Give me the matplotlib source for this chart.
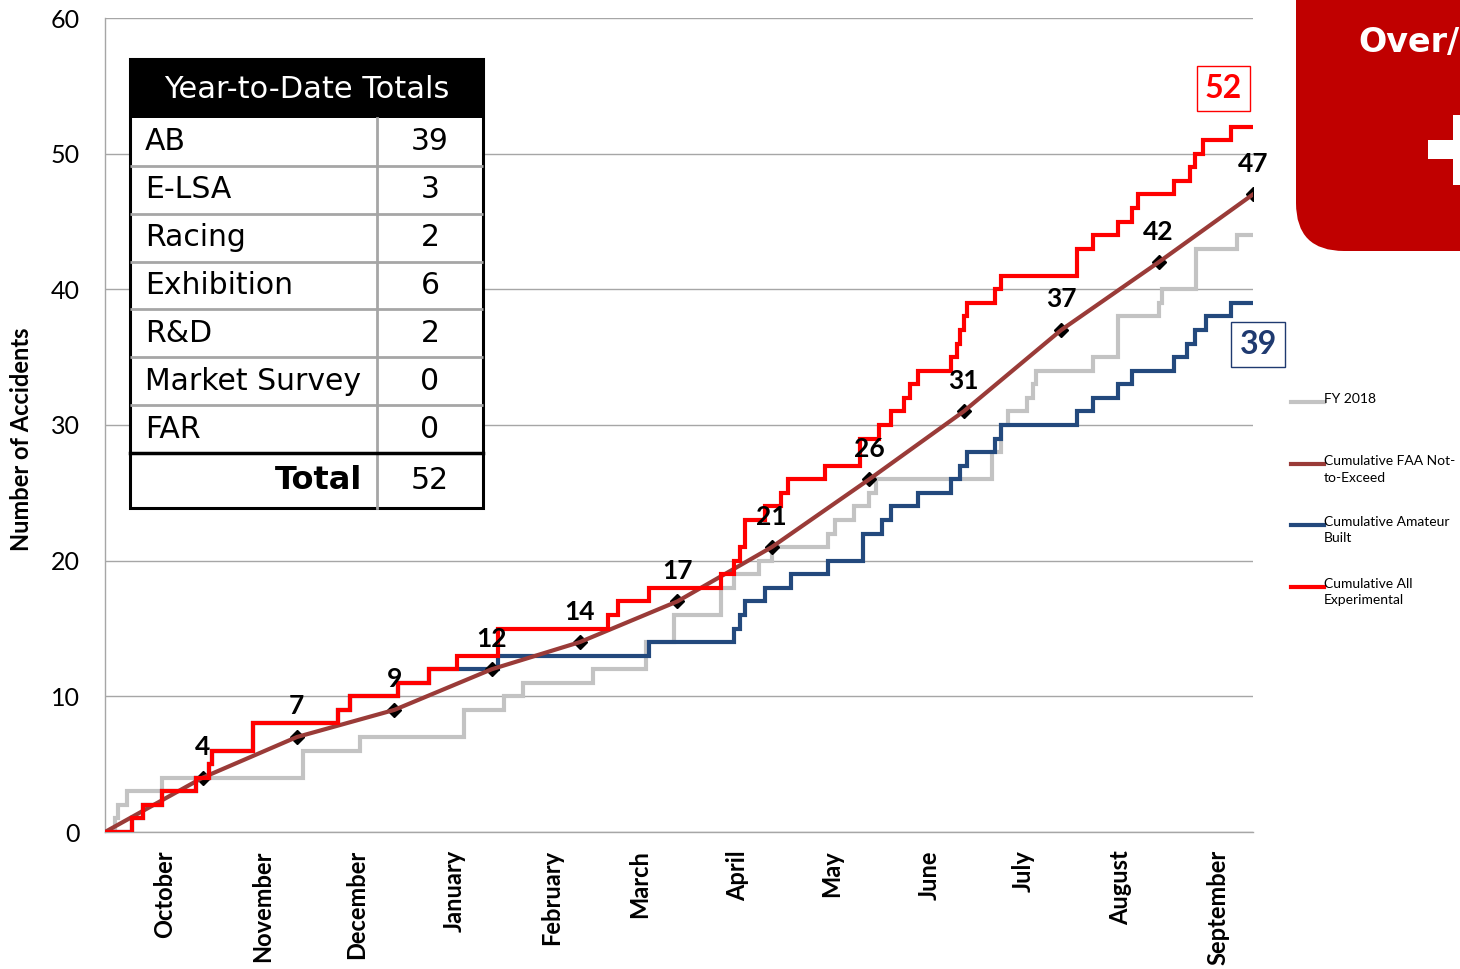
import matplotlib
matplotlib.use("Agg")
import matplotlib.pyplot as plt
from matplotlib.patches import FancyBboxPatch, Rectangle
from matplotlib.lines import Line2D

# ---------------- data ----------------
months = ["October", "November", "December", "January", "February", "March",
          "April", "May", "June", "July", "August", "September"]
month_start_days = [0, 31, 61, 92, 123, 151, 182, 212, 243, 273, 304, 335]

# Cumulative All Experimental (day of FY, cumulative count)
all_exp_days = [0, 8.5, 12, 18, 29, 33, 34, 47, 74, 78, 93, 103, 112, 125, 160, 163, 173,
                196, 200, 202, 203.5, 210, 215, 217, 229, 240, 246, 250, 254, 256, 258.5,
                269, 271, 272, 273, 274, 283, 285, 309, 314, 322, 326.5, 328.5, 340, 345,
                346.5, 349, 358, 365]
all_exp_vals = [0, 1, 2, 3, 4, 5, 6, 8, 9, 10, 11, 12, 13, 15, 16, 17, 18,
                19, 20, 21, 23, 24, 25, 26, 27, 29, 30, 31, 32, 33, 34,
                35, 36, 37, 38, 39, 40, 41, 43, 44, 45, 46, 47, 48, 49,
                50, 51, 52, 52]

# Cumulative Amateur Built
ab_days = [0, 8.5, 12, 18, 29, 33, 34, 47, 74, 78, 93, 103, 125, 173, 200, 202, 203.5,
           210, 218, 230, 241, 247, 250, 258.5, 269, 272, 274, 283, 285, 309, 314, 322,
           326.5, 340, 344, 346.5, 350, 358, 365]
ab_vals = [0, 1, 2, 3, 4, 5, 6, 8, 9, 10, 11, 12, 13, 14, 15, 16, 17,
           18, 19, 20, 22, 23, 24, 25, 26, 27, 28, 29, 30, 31, 32, 33,
           34, 35, 36, 37, 38, 39, 39]

# FY 2018
fy18_days = [0, 3.2, 4, 7, 18, 63, 81, 114, 127, 133, 155, 172, 181, 196, 200, 208, 212,
             230, 232, 238, 243, 245, 282, 285, 287, 293, 295, 296, 314, 322, 335, 336,
             347, 360, 365]
fy18_vals = [0, 1, 2, 3, 4, 6, 7, 9, 10, 11, 12, 14, 16, 18, 19, 20, 21,
             22, 23, 24, 25, 26, 28, 30, 31, 32, 33, 34, 35, 38, 39, 40,
             43, 44, 44]

# Cumulative FAA Not-to-Exceed (end of each month)
nte_days = [0, 31, 61, 92, 123, 151, 182, 212, 243, 273, 304, 335, 365]
nte_vals = [0, 4, 7, 9, 12, 14, 17, 21, 26, 31, 37, 42, 47]

# Year-to-date table
table_cats = ["AB", "E-LSA", "Racing", "Exhibition", "R&D", "Market Survey", "FAR"]
table_vals = [39, 3, 2, 6, 2, 0, 0]
table_total = 52

legend_labels = ["FY 2018", "Cumulative FAA Not-\nto-Exceed",
                 "Cumulative Amateur\nBuilt", "Cumulative All\nExperimental"]

C_GREY = "#C3C3C3"
C_BROWN = "#9A3B38"
C_BLUE = "#23497D"
C_RED = "#FF0000"
C_NAVY = "#1F3A70"

FONT = ["Lato", "DejaVu Sans"]
plt.rcParams["font.family"] = FONT

W, H = 1460, 969
fig = plt.figure(figsize=(W / 100, H / 100), dpi=100)
ax = fig.add_axes([105 / W, 1 - 832 / H, (1253 - 105) / W, (832 - 18) / H])

ax.plot(fy18_days, fy18_vals, drawstyle="steps-post", color=C_GREY, lw=3, zorder=3,
        solid_joinstyle="miter")
ax.plot(ab_days, ab_vals, drawstyle="steps-post", color=C_BLUE, lw=3, zorder=4,
        solid_joinstyle="miter")
ax.plot(nte_days[1:], nte_vals[1:], ls="none", marker="D", ms=7, color="black", zorder=5)
ax.plot(nte_days, nte_vals, color=C_BROWN, lw=3, zorder=6)
ax.plot(all_exp_days, all_exp_vals, drawstyle="steps-post", color=C_RED, lw=3, zorder=7,
        solid_joinstyle="miter")

for d, v in zip(nte_days[1:], nte_vals[1:]):
    ax.annotate(str(v), (d, v), xytext=(0, 22), textcoords="offset points",
                ha="center", va="center", fontsize=19, fontweight="bold", zorder=9)

ax.set_xlim(0, 365)
ax.set_ylim(0, 60)
ax.set_yticks(range(0, 61, 10))
ax.tick_params(axis="y", length=0, pad=18, labelsize=18)
ax.set_xticks([d + 19 for d in month_start_days])
ax.set_xticklabels(months, rotation=90, fontsize=17, fontweight="bold", va="top", ha="center")
ax.tick_params(axis="x", length=0, pad=13)
ax.grid(axis="y", color="#A6A6A6", lw=1)
ax.set_axisbelow(True)
for s in ["top", "right"]:
    ax.spines[s].set_visible(False)
for s in ["left", "bottom"]:
    ax.spines[s].set_color("#A6A6A6")
    ax.spines[s].set_linewidth(1)

# end-value boxes
ax.text(355.5, 54.8, str(all_exp_vals[-1]), color=C_RED, fontsize=23, fontweight="bold",
        ha="center", va="center", clip_on=False, zorder=10,
        bbox=dict(boxstyle="square,pad=0.25", fc="white", ec=C_RED, lw=1))
ax.text(366.6, 35.9, str(ab_vals[-1]), color=C_NAVY, fontsize=23, fontweight="bold",
        ha="center", va="center", clip_on=False, zorder=10,
        bbox=dict(boxstyle="square,pad=0.25", fc="white", ec=C_NAVY, lw=1))

fig.text(22 / W, 1 - 439 / H, "Number of Accidents", rotation=90, ha="center", va="center",
         fontsize=17, fontweight="bold")

# ---------------- overlay in pixel coordinates ----------------
ov = fig.add_axes([0, 0, 1, 1], zorder=20)
ov.set_xlim(0, W)
ov.set_ylim(H, 0)
ov.axis("off")

# Table
tx0, tx1, tcol = 130, 483, 377
ty_head0, ty_head1 = 59, 118
row_h = (453 - 118) / len(table_cats)
ty_total1 = 508
TFONT = ["DejaVu Sans"]
ov.add_patch(Rectangle((tx0, ty_head1), tx1 - tx0, ty_total1 - ty_head1, fc="white", ec="none"))
ov.add_patch(Rectangle((tx0, ty_head0), tx1 - tx0, ty_head1 - ty_head0, fc="black", ec="none"))
ov.text((tx0 + tx1) / 2, (ty_head0 + ty_head1) / 2 + 1, "Year-to-Date Totals", color="white",
        fontsize=22, ha="center", va="center", family=TFONT)
for i, (c, v) in enumerate(zip(table_cats, table_vals)):
    y0 = ty_head1 + i * row_h
    yc = y0 + row_h / 2
    ov.text(tx0 + 15, yc, c, fontsize=21.5, ha="left", va="center", family=TFONT)
    ov.text((tcol + tx1) / 2, yc, str(v), fontsize=21.5, ha="center", va="center", family=TFONT)
    if i > 0:
        ov.plot([tx0, tx1], [y0, y0], color="#A6A6A6", lw=2, solid_capstyle="butt")
ty_total0 = ty_head1 + len(table_cats) * row_h
yc = (ty_total0 + ty_total1) / 2
ov.text(tcol - 15, yc, "Total", fontsize=23, fontweight="bold", ha="right", va="center",
        family=TFONT)
ov.text((tcol + tx1) / 2, yc, str(table_total), fontsize=21.5, ha="center", va="center",
        family=TFONT)
ov.plot([tcol, tcol], [ty_head1, ty_total1], color="#A6A6A6", lw=2)
ov.plot([tx0, tx1], [ty_total0, ty_total0], color="black", lw=2.5)
ov.add_patch(Rectangle((tx0, ty_head0), tx1 - tx0, ty_total1 - ty_head0, fc="none",
                       ec="black", lw=2.2))

# Red rounded panel (cut by figure edge)
ov.add_patch(FancyBboxPatch((1296, -100), 400, 351, boxstyle="round,pad=0,rounding_size=48",
                            fc="#C00000", ec="none"))
ov.text(1358, 42, "Over/", color="white", fontsize=24, fontweight="bold", ha="left",
        va="center", family=TFONT)
ov.add_patch(Rectangle((1428, 140), 100, 19, fc="white", ec="none"))
ov.add_patch(Rectangle((1453, 115), 19, 70, fc="white", ec="none"))

# Legend
leg_colors = [C_GREY, C_BROWN, C_BLUE, C_RED]
leg_y = [402, 464, 525, 587]
for lab, col, y in zip(legend_labels, leg_colors, leg_y):
    ov.add_line(Line2D([1291, 1324], [y, y], color=col, lw=3))
    ov.text(1324, y - 9, lab, fontsize=10, ha="left", va="top", linespacing=1.45)

fig.savefig("out.png", dpi=100)
